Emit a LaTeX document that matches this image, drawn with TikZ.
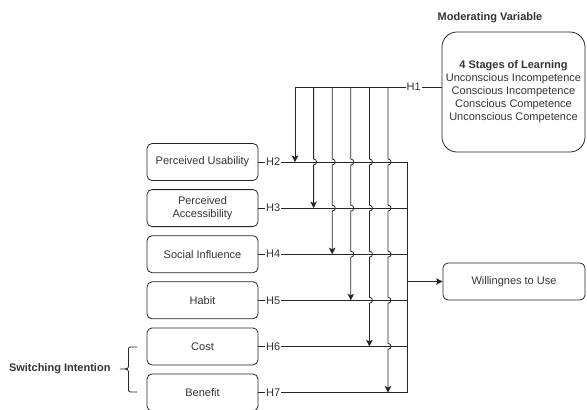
\documentclass[tikz,border=0pt]{standalone}
\usepackage{fontspec}
\setmainfont{Liberation Sans}
\usetikzlibrary{arrows.meta}
\begin{document}
\begin{tikzpicture}[x=1pt,y=-1pt,
  every node/.style={font=\fontsize{11pt}{13pt}\selectfont, text=black!80},
  line/.style={draw=black!85, line width=0.8pt},
  box/.style={line, rounded corners=5pt, minimum width=111pt, minimum height=37pt, align=center, inner sep=0pt},
  bigbox/.style={line, rounded corners=15pt, minimum width=143pt, minimum height=120pt, align=center, inner sep=0pt},
  hl/.style={fill=white, inner sep=1pt},
  arr/.style={line, -{Stealth[length=6.5pt,width=6.5pt,inset=1.5pt]}},
  jmp/.style 2 args={insert path={-- (#1,#2-3) .. controls (#1+4,#2-3) and (#1+4,#2+3) .. (#1,#2+3)}},
  bold/.style={font=\fontsize{11pt}{13pt}\selectfont\bfseries}
]
\useasboundingbox (0,0) rectangle (587,410);

% boxes
\node[box] (pu) at (202.5,162) {Perceived Usability};
\node[box] (pa) at (202.5,208.1) {Perceived\\Accessibility};
\node[box] (si) at (202.5,254.2) {Social Influence};
\node[box] (hb) at (202.5,300.3) {Habit};
\node[box] (co) at (202.5,346.4) {Cost};
\node[box] (be) at (202.5,392.5) {Benefit};
\node[box, minimum width=142pt] (wu) at (514,281.5) {Willingnes to Use};
\node[bigbox] (mod) at (513.5,92) {\textbf{4 Stages of Learning}\\Unconscious Incompetence\\Conscious Incompetence\\Conscious Competence\\Unconscious Competence};
\node[bold] (mv) at (490,18) {Moderating Variable};
\node[bold, anchor=east] (sw) at (114,369) {Switching Intention};

% bus coordinates
\coordinate (b2) at (407,162);
\coordinate (b3) at (407,208.1);
\coordinate (b4) at (407,254.2);
\coordinate (b5) at (407,300.3);
\coordinate (b6) at (407,346.4);
\coordinate (b7) at (407,392.5);
\coordinate (bw) at (407,281.5);

% vertical coordinates
\coordinate (v1) at (295,87);
\coordinate (v2) at (313.6,87);
\coordinate (v3) at (332.2,87);
\coordinate (v4) at (350.8,87);
\coordinate (v5) at (369.4,87);
\coordinate (v6) at (388,87);
\coordinate (e1) at (295,162);
\coordinate (e2) at (313.6,208.1);
\coordinate (e3) at (332.2,254.2);
\coordinate (e4) at (350.8,300.3);
\coordinate (e5) at (369.4,346.4);
\coordinate (e6) at (388,392.5);

% H lines
\draw[line] (pu.east) -- node[hl,pos=0.1]{H2} (b2);
\draw[line] (pa.east) -- node[hl,pos=0.1]{H3} (b3);
\draw[line] (si.east) -- node[hl,pos=0.1]{H4} (b4);
\draw[line] (hb.east) -- node[hl,pos=0.1]{H5} (b5);
\draw[line] (co.east) -- node[hl,pos=0.1]{H6} (b6);
\draw[line] (be.east) -- node[hl,pos=0.1]{H7} (b7);
\draw[line] (b2) -- (b7);
\draw[arr] (bw) -- (wu.west);

% H1
\draw[line] (mod.west |- v1) -- node[hl,pos=0.19]{H1} (v1);

% verticals with jumps
\draw[arr] (v1) -- (e1);
\draw[arr] (v2) [jmp={313.6}{162}] -- (e2);
\draw[arr] (v3) [jmp={332.2}{162}] [jmp={332.2}{208.1}] -- (e3);
\draw[arr] (v4) [jmp={350.8}{162}] [jmp={350.8}{208.1}] [jmp={350.8}{254.2}] -- (e4);
\draw[arr] (v5) [jmp={369.4}{162}] [jmp={369.4}{208.1}] [jmp={369.4}{254.2}] [jmp={369.4}{300.3}] -- (e5);
\draw[arr] (v6) [jmp={388}{162}] [jmp={388}{208.1}] [jmp={388}{254.2}] [jmp={388}{300.3}] [jmp={388}{346.4}] -- (e6);

% brace
\draw[line] (137,347) -- (133,347) .. controls (128.5,347) .. (128.5,351) -- (128.5,364)
  .. controls (128.5,369) .. (120,369) .. controls (128.5,369) .. (128.5,374) -- (128.5,388)
  .. controls (128.5,392) .. (133,392) -- (137,392);
\end{tikzpicture}
\end{document}
